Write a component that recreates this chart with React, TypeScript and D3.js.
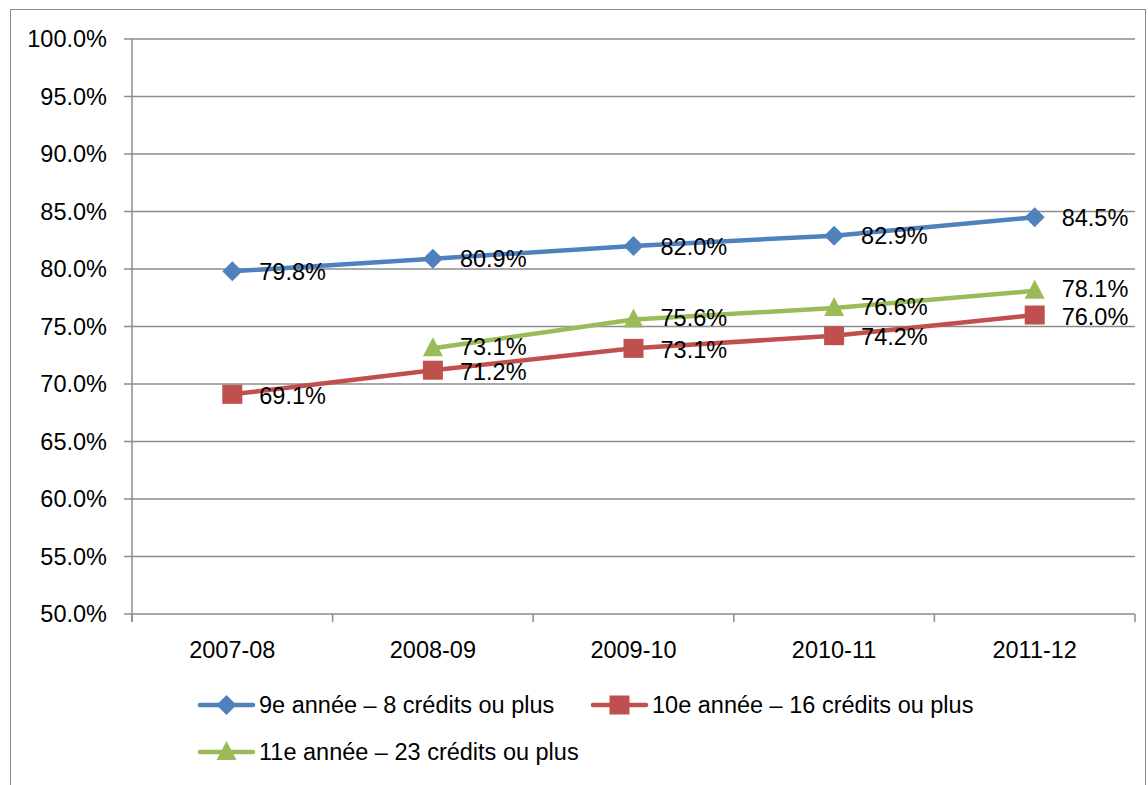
import React, { useRef, useEffect } from 'react'
import * as d3 from 'd3'

const categories = ['2007-08', '2008-09', '2009-10', '2010-11', '2011-12']
const grade9 = [79.8, 80.9, 82.0, 82.9, 84.5]
const grade10 = [69.1, 71.2, 73.1, 74.2, 76.0]
const grade11: (number | null)[] = [null, 73.1, 75.6, 76.6, 78.1]
const yTicks = [50, 55, 60, 65, 70, 75, 80, 85, 90, 95, 100]
const seriesNames = ['9e année – 8 crédits ou plus', '10e année – 16 crédits ou plus', '11e année – 23 crédits ou plus']

export default function App() {
  const svgRef = useRef<SVGSVGElement>(null)

  useEffect(() => {
    const svg = d3.select(svgRef.current)
    svg.selectAll('*').remove()

    const width = 1148, height = 785
    const left = 132, right = 1135, top = 39, bottom = 614
    const font = '"Liberation Sans", Arial, sans-serif'
    const fs = '23.5px'
    const grid = '#8c8c8c'

    svg.attr('width', width).attr('height', height)

    svg.append('rect')
      .attr('x', 10.5).attr('y', 9.5).attr('width', 1135).attr('height', 800)
      .attr('fill', 'white').attr('stroke', '#8c8c8c').attr('stroke-width', 1)

    const x = d3.scaleBand().domain(categories).range([left, right])
    const cx = (c: string) => (x(c) as number) + x.bandwidth() / 2
    const y = d3.scaleLinear().domain([50, 100]).range([bottom, top])

    // gridlines + y tick labels
    yTicks.forEach(t => {
      svg.append('line')
        .attr('x1', left - 8).attr('x2', right)
        .attr('y1', y(t)).attr('y2', y(t))
        .attr('stroke', grid).attr('stroke-width', 1.5)
      svg.append('text')
        .attr('x', 107).attr('y', y(t))
        .attr('text-anchor', 'end').attr('dominant-baseline', 'central')
        .attr('font-family', font).attr('font-size', fs).attr('fill', '#000')
        .text(t.toFixed(1) + '%')
    })

    // axes
    svg.append('line')
      .attr('x1', left).attr('x2', left).attr('y1', top).attr('y2', bottom + 8)
      .attr('stroke', grid).attr('stroke-width', 1.5)
    const bounds = categories.map(c => x(c) as number).concat([right])
    bounds.forEach(b => {
      svg.append('line')
        .attr('x1', b).attr('x2', b).attr('y1', bottom).attr('y2', bottom + 8)
        .attr('stroke', grid).attr('stroke-width', 1.5)
    })
    categories.forEach(c => {
      svg.append('text')
        .attr('x', cx(c)).attr('y', 658)
        .attr('text-anchor', 'middle')
        .attr('font-family', font).attr('font-size', fs).attr('fill', '#000')
        .text(c)
    })

    const series = [
      { name: seriesNames[0], values: grade9 as (number | null)[], color: '#4F81BD', marker: 'diamond', dy: 0.5 },
      { name: seriesNames[1], values: grade10 as (number | null)[], color: '#C0504D', marker: 'square', dy: 1.5 },
      { name: seriesNames[2], values: grade11, color: '#9BBB59', marker: 'triangle', dy: -1.5 },
    ]

    const drawMarker = (g: any, marker: string, px: number, py: number, color: string) => {
      if (marker === 'diamond') {
        g.append('path')
          .attr('d', `M${px},${py - 10}L${px + 10},${py}L${px},${py + 10}L${px - 10},${py}Z`)
          .attr('fill', color)
      } else if (marker === 'square') {
        g.append('rect')
          .attr('x', px - 10).attr('y', py - 9.5).attr('width', 20).attr('height', 19)
          .attr('fill', color)
      } else {
        g.append('path')
          .attr('d', `M${px},${py - 11}L${px + 10},${py + 8}L${px - 10},${py + 8}Z`)
          .attr('fill', color)
      }
    }

    const line = d3.line<{ c: string, v: number | null }>()
      .defined(d => d.v != null)
      .x(d => cx(d.c))
      .y(d => y(d.v as number))

    series.forEach(s => {
      const pts = categories.map((c, i) => ({ c, v: s.values[i] }))
      svg.append('path')
        .datum(pts)
        .attr('d', line)
        .attr('fill', 'none').attr('stroke', s.color).attr('stroke-width', 4.5)
        .attr('stroke-linejoin', 'round')
      const g = svg.append('g')
      pts.forEach(p => {
        if (p.v == null) return
        drawMarker(g, s.marker, cx(p.c), y(p.v), s.color)
      })
      pts.forEach(p => {
        if (p.v == null) return
        svg.append('text')
          .attr('x', cx(p.c) + 27).attr('y', y(p.v) + s.dy)
          .attr('dominant-baseline', 'central')
          .attr('font-family', font).attr('font-size', fs).attr('fill', '#000')
          .text(p.v.toFixed(1) + '%')
      })
    })

    // legend
    const legendPos = [
      { x: 200, y: 705 },
      { x: 593, y: 705 },
      { x: 200, y: 752 },
    ]
    series.forEach((s, i) => {
      const lp = legendPos[i]
      const g = svg.append('g')
      g.append('line')
        .attr('x1', lp.x).attr('x2', lp.x + 53).attr('y1', lp.y).attr('y2', lp.y)
        .attr('stroke', s.color).attr('stroke-width', 4.5).attr('stroke-linecap', 'round')
      drawMarker(g, s.marker, lp.x + 26.5, lp.y, s.color)
      g.append('text')
        .attr('x', lp.x + 59).attr('y', lp.y)
        .attr('dominant-baseline', 'central')
        .attr('font-family', font).attr('font-size', fs).attr('fill', '#000')
        .text(s.name)
    })
  }, [])

  return <svg ref={svgRef} style={{ position: 'absolute', left: 0, top: 0 }} />
}
